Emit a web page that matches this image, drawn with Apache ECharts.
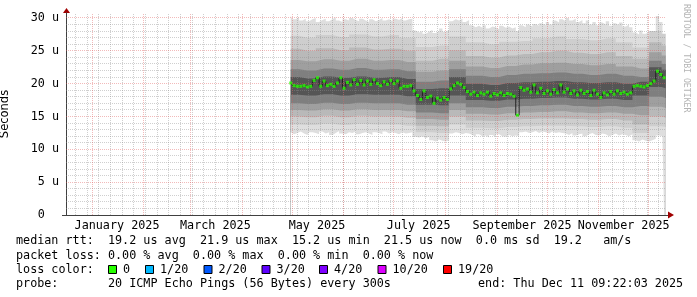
<!DOCTYPE html>
<html><head><meta charset="utf-8">
<script src="https://cdn.jsdelivr.net/npm/echarts@6/dist/echarts.min.js"></script>
<style>html,body{margin:0;padding:0;background:#fff}#c{width:697px;height:297px}</style>
</head><body><div id="c"></div>
<script>
// ---------- data ----------
const rangeStart = Date.UTC(2024, 11, 16, 9, 22, 3);
const rangeEnd   = Date.UTC(2025, 11, 11, 9, 22, 3);
const dataStart  = Date.UTC(2025, 3, 30, 6, 0, 0);
const DAY = 86400000;

// median RTT (microseconds), one value every 2 days from dataStart
const medianDays = Array.from({length: 113}, (_, i) => i * 2);
const median = [
 20.1,19.7,19.6,19.6,19.7,19.5,19.6,20.5,20.9,19.6,20.4,19.7,19.9,19.6,20.1,20.9,19.3,20.2,19.8,20.6,
 19.9,20.5,19.8,20.4,19.9,20.6,20.0,19.7,20.3,19.9,20.5,20.0,20.4,19.3,19.6,19.6,19.7,
 18.9,18.2,17.6,18.9,17.9,18.1,17.0,17.8,17.5,17.9,17.6,
 19.2,19.7,20.1,19.9,19.4,18.8,
 18.4,18.7,18.2,18.6,18.4,18.7,18.1,18.5,18.3,18.6,18.2,18.5,18.4,18.1,
 15.2,
 19.4,19.0,19.2,18.7,19.8,18.6,19.3,18.5,18.9,18.4,19.1,18.6,19.8,18.7,19.2,18.5,18.9,18.3,19.0,18.5,
 18.8,18.2,19.0,18.4,17.9,18.6,18.3,18.8,18.4,18.9,18.5,18.7,18.4,18.6,
 19.6,19.7,19.6,19.5,19.7,20.0,20.4,
 21.9,21.4,20.9
];
// slowest ping (top edge of smoke), same 2-day grid
const smokeMax = [
 30.3,29.8,30.1,29.6,29.9,29.5,29.8,30.0,29.4,29.7,29.9,29.5,29.8,30.1,29.6,29.4,29.8,29.6,30.0,29.7,
 29.5,29.9,29.6,29.4,29.8,29.5,29.7,30.0,29.6,29.8,29.5,29.9,29.7,30.0,29.6,29.8,29.9,
 28.1,27.8,28.0,27.6,27.9,28.2,27.7,28.0,28.4,27.9,28.2,
 29.5,29.8,29.6,29.9,29.4,29.7,
 28.9,28.6,28.8,28.5,28.9,28.4,28.7,28.6,28.3,28.8,28.5,28.7,28.4,28.6,
 28.0,
 28.9,28.6,29.0,28.7,29.1,28.8,29.2,28.9,29.4,29.0,29.6,29.3,29.8,29.5,30.0,29.6,29.9,29.4,29.7,29.2,
 29.6,29.0,29.4,28.9,29.3,29.0,29.5,28.8,29.2,28.9,29.3,28.7,29.0,28.6,
 27.8,27.5,28.1,27.6,27.9,27.4,28.0,
 30.3,29.4,29.0
];
// fastest ping (bottom edge of smoke), same 2-day grid
const smokeMin = [
 12.6,12.3,12.5,12.7,12.4,12.2,12.6,12.5,12.3,12.7,12.4,12.6,12.2,12.5,12.8,12.4,12.3,12.6,12.5,12.7,
 12.3,12.5,12.6,12.4,12.2,12.6,12.5,12.3,12.7,12.4,12.6,12.5,12.3,12.6,12.4,12.5,12.6,
 11.9,11.8,12.0,11.7,11.9,11.4,11.2,11.5,11.3,11.2,11.4,
 12.4,12.6,12.5,12.3,12.5,12.4,
 12.2,11.9,12.3,12.0,12.1,11.8,12.2,11.9,12.3,12.0,11.9,12.2,12.0,12.1,
 12.0,
 12.6,12.7,12.5,12.6,12.8,12.5,12.7,12.6,12.4,12.7,12.5,12.6,12.5,
 12.4,12.2,12.5,12.1,12.3,12.4,12.0,12.3,12.5,12.2,12.1,12.4,12.3,12.0,12.2,12.4,12.1,12.3,12.2,12.0,12.3,
 11.4,11.2,11.5,11.3,11.2,11.4,11.6,
 12.1,12.0,12.2
];
// inner smoke levels (sorted pings), coarser grid
const bandDays = [0,10,20,30,40,50,60,70,80,90,100,110,120,130,140,150,160,170,180,190,200,210,220,225];
const hi2 = [27.3,27.0,27.4,27.1,27.5,27.2,27.4,27.0,25.6,25.8,27.2,26.3,26.0,26.4,26.5,26.9,27.2,26.8,26.6,26.9,26.3,25.5,28.0,27.6];
const hi3 = [25.3,25.0,25.4,25.1,25.5,25.2,25.3,25.0,23.5,23.8,25.1,24.2,24.0,24.3,24.5,24.8,25.0,24.7,24.5,24.8,24.2,23.8,26.3,25.8];
const hi4 = [23.6,23.4,23.7,23.5,23.8,23.5,23.6,23.3,21.8,22.0,23.5,22.6,22.4,22.7,22.9,23.1,23.2,23.0,22.8,23.0,22.6,22.3,24.8,24.3];
const hi5 = [22.2,22.0,22.3,22.1,22.4,22.1,22.2,21.9,20.3,20.5,22.2,21.2,21.0,21.3,21.5,21.6,21.7,21.5,21.3,21.5,21.2,21.0,23.5,23.0];
const hi6 = [21.0,20.8,21.1,20.9,21.1,20.9,21.0,20.7,19.2,19.3,21.0,20.0,19.8,20.1,20.2,20.3,20.4,20.2,20.1,20.2,20.0,20.3,22.5,22.1];
const lo6 = [18.3,18.2,18.4,18.2,18.4,18.3,18.3,18.1,16.8,16.7,18.2,17.5,17.4,17.6,17.7,17.8,17.9,17.7,17.6,17.7,17.5,18.2,19.5,19.3];
const lo5 = [17.0,16.9,17.1,16.9,17.1,17.0,17.0,16.8,15.6,15.5,17.0,16.4,16.3,16.5,16.6,16.7,16.8,16.6,16.5,16.6,16.4,16.6,18.0,17.8];
const lo4 = [16.0,15.9,16.1,15.9,16.1,16.0,16.0,15.8,14.6,14.5,16.0,15.4,15.3,15.5,15.6,15.7,15.8,15.6,15.5,15.6,15.4,15.2,16.5,16.3];
const lo3 = [15.0,14.9,15.1,14.9,15.1,15.0,15.0,14.8,13.6,13.5,15.0,14.4,14.3,14.5,14.6,14.7,14.7,14.6,14.5,14.6,14.4,13.8,15.0,14.8];
const lo2 = [13.8,13.7,13.9,13.7,13.9,13.8,13.8,13.6,12.6,12.5,13.8,13.3,13.2,13.4,13.5,13.6,13.6,13.5,13.4,13.5,13.3,12.5,13.5,13.4];

const xTickLabels = ['January 2025','March 2025','May 2025','July 2025','September 2025','November 2025'];
const xTickDates  = ['2025-01-16','2025-03-16','2025-05-16','2025-07-16','2025-09-16','2025-11-16'];
const yTicks = [0,5,10,15,20,25,30];
const yTickLabels = ['0  ','5 u','10 u','15 u','20 u','25 u','30 u'];

const lossLabels = ['0','1/20','2/20','3/20','4/20','10/20','19/20'];
const lossColors = ['#26ff00','#00b8ff','#0059ff','#5e00ff','#7e00ff','#dd00ff','#ff0000'];
const legendRow1 = 'median rtt:  19.2 us avg  21.9 us max  15.2 us min  21.5 us now  0.0 ms sd  19.2   am/s';
const legendRow2 = 'packet loss: 0.00 % avg  0.00 % max  0.00 % min  0.00 % now';
const legendRow3 = 'loss color:';
const legendRow4 = 'probe:       20 ICMP Echo Pings (56 Bytes) every 300s';
const legendEnd  = 'end: Thu Dec 11 09:22:03 2025';
const watermark  = 'RRDTOOL / TOBI OETIKER';

// ---------- build ----------
const MONO = '"DejaVu Sans Mono", monospace';
const FS = 11.75;
const G = {left: 66, top: 13, width: 600, height: 202};
const Y_MAX = 30.76;
const toPts = (days, vals) => vals.map((v, i) => [dataStart + days[i] * DAY, v]);

const layers = [
  [medianDays, smokeMax, '#dedede'],
  [bandDays, hi2, '#cecece'],
  [bandDays, hi3, '#b9b9b9'],
  [bandDays, hi4, '#9f9f9f'],
  [bandDays, hi5, '#7f7f7f'],
  [bandDays, hi6, '#555555'],
  [bandDays, lo6, '#7f7f7f'],
  [bandDays, lo5, '#9f9f9f'],
  [bandDays, lo4, '#b9b9b9'],
  [bandDays, lo3, '#cecece'],
  [bandDays, lo2, '#dedede'],
  [medianDays, smokeMin, '#ffffff'],
];
const series = layers.map(([d, v, c]) => ({
  type: 'line', step: 'middle', symbol: 'none', silent: true, z: 2,
  data: toPts(d, v),
  lineStyle: {width: 0, opacity: 0},
  areaStyle: {color: c, opacity: 1}
}));

// grid lines (drawn above the smoke like rrdtool), snapped to pixel centres
const span = rangeEnd - rangeStart;
const snapT = t => { const px = G.left + (t - rangeStart) / span * G.width; return rangeStart + (Math.floor(px) + 0.5 - G.left) / G.width * span; };
const snapV = v => { const py = G.top + G.height - v / Y_MAX * G.height; return (G.top + G.height - (Math.floor(py) + 0.5)) / G.height * Y_MAX; };
const minorCol = 'rgba(140,140,140,0.42)';
const majorCol = 'rgba(225,90,90,0.42)';
const dot = [1, 1];
const gl = [];
for (let t = Date.UTC(2024, 11, 22); t < rangeEnd; t += 7 * DAY) gl.push({xAxis: snapT(t), lineStyle: {color: minorCol, type: dot, width: 1}});
for (let v = 1; v <= 30; v++) if (v % 5) gl.push({yAxis: snapV(v), lineStyle: {color: minorCol, type: dot, width: 1}});
for (let m = 0; m < 12; m++) gl.push({xAxis: snapT(Date.UTC(2025, m, 1)), lineStyle: {color: majorCol, type: dot, width: 1}});
for (let v = 5; v <= 30; v += 5) gl.push({yAxis: snapV(v), lineStyle: {color: majorCol, type: dot, width: 1}});
series.push({
  type: 'line', data: [], z: 3, silent: true,
  markLine: {silent: true, symbol: ['none', 'none'], animation: false, label: {show: false}, data: gl}
});
const medPts = toPts(medianDays, median);
series.push({type: 'line', step: 'middle', symbol: 'none', silent: true, z: 4, data: medPts,
  lineStyle: {color: '#202020', width: 1}});
series.push({type: 'scatter', symbol: 'rect', symbolSize: [3, 3], silent: true, z: 5, data: medPts,
  itemStyle: {color: lossColors[0]}});

const xLabelTs = xTickDates.map(s => Date.parse(s + 'T00:00:00Z'));

const graphic = [
  {type: 'polygon', shape: {points: [[63, 13], [70, 13], [66.5, 8]]}, style: {fill: '#a00000'}},
  {type: 'polygon', shape: {points: [[668, 211.5], [668, 218.5], [674, 215]]}, style: {fill: '#a00000'}},
  {type: 'line', shape: {x1: 62, y1: 215.5, x2: 668, y2: 215.5}, style: {stroke: '#404040', lineWidth: 1}},
  {type: 'text', x: 686, y: 4, rotation: -Math.PI / 2,
    style: {text: watermark, font: '8.2px ' + MONO, fill: '#b4b4b4', align: 'left', verticalAlign: 'middle'}},
];
const rowY = [241, 255.5, 269.5, 283.5];
[legendRow1, legendRow2, legendRow3, legendRow4].forEach((t, i) => graphic.push({
  type: 'text', x: 16, y: rowY[i], style: {text: t, font: FS + 'px ' + MONO, fill: '#000', verticalAlign: 'middle'}
}));
graphic.push({type: 'text', x: 478, y: rowY[3], style: {text: legendEnd, font: FS + 'px ' + MONO, fill: '#000', verticalAlign: 'middle'}});
const boxX = [108, 145, 203.5, 261.5, 319, 377.5, 443];
lossLabels.forEach((l, i) => {
  graphic.push({type: 'rect', shape: {x: boxX[i] + 0.5, y: 265.5, width: 8, height: 8},
    style: {fill: lossColors[i], stroke: '#000', lineWidth: 1}});
  graphic.push({type: 'text', x: boxX[i] + 15, y: rowY[2],
    style: {text: l, font: FS + 'px ' + MONO, fill: '#000', verticalAlign: 'middle'}});
});

const chart = echarts.init(document.getElementById('c'), null, {renderer: 'canvas'});
chart.setOption({
  animation: false,
  backgroundColor: '#fff',
  grid: {left: G.left, top: G.top, width: G.width, height: G.height, containLabel: false, outerBoundsMode: 'none'},
  xAxis: {
    type: 'value', min: rangeStart, max: rangeEnd,
    axisLine: {show: false},
    axisTick: {show: false},
    splitLine: {show: false},
    axisLabel: {
      customValues: xLabelTs, showMinLabel: true, showMaxLabel: true, hideOverlap: false,
      margin: 5, color: '#000', fontFamily: MONO, fontSize: FS,
      formatter: v => { const i = xLabelTs.indexOf(v); return i >= 0 ? xTickLabels[i] : ''; }
    }
  },
  yAxis: {
    type: 'value', min: 0, max: Y_MAX, interval: 5,
    name: 'Seconds', nameLocation: 'middle', nameGap: 55, nameRotate: 90,
    nameTextStyle: {fontFamily: '"DejaVu Sans"', fontSize: 11.5, color: '#000'},
    axisLine: {show: true, lineStyle: {color: '#404040', width: 1}},
    axisTick: {show: false},
    splitLine: {show: false},
    axisLabel: {
      customValues: yTicks, margin: 7, color: '#000', fontFamily: MONO, fontSize: FS,
      formatter: v => { const i = yTicks.indexOf(v); return i >= 0 ? yTickLabels[i] : ''; }
    }
  },
  series: series,
  graphic: graphic
});
</script></body></html>
